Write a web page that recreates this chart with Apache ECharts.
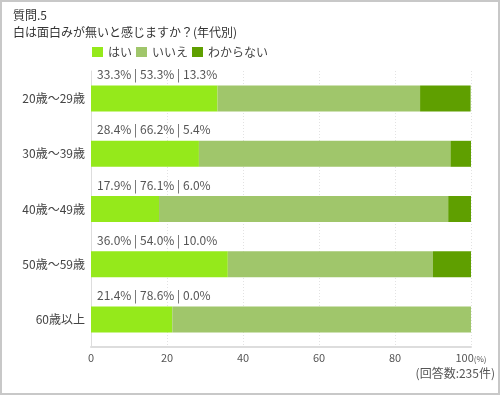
<!DOCTYPE html>
<html><head><meta charset="utf-8">
<script src="https://cdn.jsdelivr.net/npm/echarts@6/dist/echarts.min.js"></script>
<style>html,body{margin:0;padding:0;background:#fff}#c{width:500px;height:395px}</style>
</head><body><div id="c"></div>
<script>
var categories = ['20歳～29歳','30歳～39歳','40歳～49歳','50歳～59歳','60歳以上'];
var seriesNames = ['はい','いいえ','わからない'];
var yes = [33.3, 28.4, 17.9, 36.0, 21.4];
var no = [53.3, 66.2, 76.1, 54.0, 78.6];
var unknown = [13.3, 5.4, 6.0, 10.0, 0.0];
var xTicks = [0, 20, 40, 60, 80, 100];
var titleLines = ['質問.5', '白は面白みが無いと感じますか？(年代別)'];
var noteText = '(回答数:235件)';

var FONT = '"Noto Sans CJK JP", "Noto Sans", sans-serif';
var colors = ['#95e91b', '#a0c66b', '#5f9f00'];
var chart = echarts.init(document.getElementById('c'), null, {renderer: 'canvas'});
function lbl(i) {
  return yes[i].toFixed(1) + '% | ' + no[i].toFixed(1) + '% | ' + unknown[i].toFixed(1) + '%';
}
var option = {
  animation: false,
  color: colors,
  textStyle: {fontFamily: FONT},
  title: {
    text: titleLines[0] + '\n' + titleLines[1],
    left: 8, top: 2,
    textStyle: {fontFamily: FONT, fontSize: 12, fontWeight: 'normal', color: '#333', lineHeight: 17}
  },
  legend: {
    data: seriesNames,
    left: 87, top: 41,
    itemWidth: 11, itemHeight: 10, itemGap: 4,
    icon: 'rect',
    textStyle: {fontFamily: FONT, fontSize: 12, color: '#444'}
  },
  grid: {left: 91, right: 29, top: 71, bottom: 48},
  xAxis: {
    type: 'value', min: 0, max: 100, interval: 20,
    axisLine: {show: true, lineStyle: {color: '#ddd', width: 2}},
    axisTick: {show: false},
    splitLine: {show: true, lineStyle: {color: '#e2e2e2', type: [1, 2], width: 1}},
    axisLabel: {
      fontFamily: FONT, fontSize: 11, color: '#555', margin: 5,
      formatter: function (v) { return xTicks.indexOf(v) >= 0 ? (v === 100 ? v + '{u|(%)}' : String(v)) : ''; },
      rich: {u: {fontSize: 8, color: '#555', padding: [3, 0, 0, 0]}}
    }
  },
  yAxis: {
    type: 'category', data: categories, inverse: true,
    axisLine: {show: true, lineStyle: {color: '#ddd', width: 1}},
    axisTick: {show: false},
    axisLabel: {fontFamily: FONT, fontSize: 12, color: '#444', margin: 6}
  },
  series: [
    {name: seriesNames[0], type: 'bar', stack: 's', data: yes, barWidth: 26,
     label: {show: true, position: [6, -17], color: '#555', fontSize: 12, fontFamily: FONT,
       formatter: function (p) { return lbl(p.dataIndex); }}},
    {name: seriesNames[1], type: 'bar', stack: 's', data: no, barWidth: 26},
    {name: seriesNames[2], type: 'bar', stack: 's', data: unknown, barWidth: 26}
  ],
  graphic: [
    {type: 'rect', shape: {x: 1, y: 1, width: 498, height: 393}, style: {fill: 'none', stroke: '#c8c8c8', lineWidth: 2}, silent: true},
    {type: 'text', right: 5, top: 367, style: {text: noteText, font: '12px ' + FONT, fill: '#555'}}
  ]
};
chart.setOption(option);
</script></body></html>
